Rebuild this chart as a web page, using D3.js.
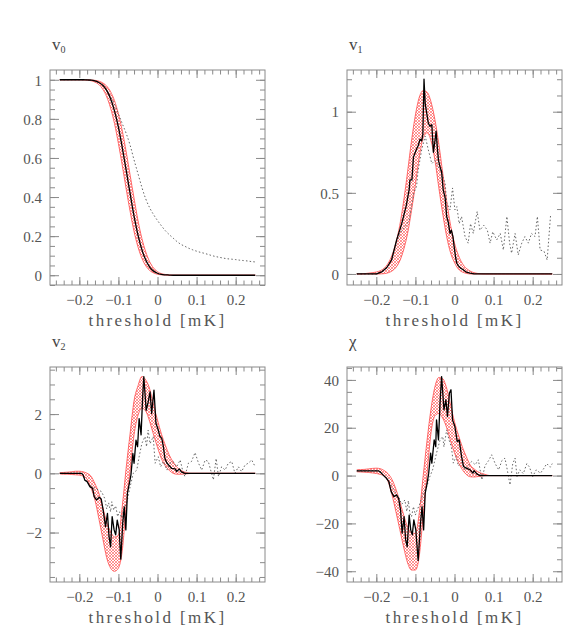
<!DOCTYPE html>
<html>
<head>
<meta charset="utf-8">
<script src="https://cdn.jsdelivr.net/npm/d3@7"></script>
<style>
  body { margin: 0; background: #fff; }
  text { font-family: "Liberation Serif", "DejaVu Serif", serif; }
</style>
</head>
<body>
<svg id="chart" width="587" height="644"></svg>
<script>
// thresholds [mK] for the smooth series and the gaussian bands
const grid = [-0.25,-0.24,-0.23,-0.22,-0.21,-0.20,-0.19,-0.18,-0.17,-0.16,-0.15,-0.14,-0.13,-0.12,-0.11,-0.10,
  -0.09,-0.08,-0.07,-0.06,-0.05,-0.04,-0.03,-0.02,-0.01,0,0.01,0.02,0.03,0.04,0.05,0.06,0.07,0.08,0.09,0.10,
  0.11,0.12,0.13,0.14,0.15,0.16,0.17,0.18,0.19,0.20,0.21,0.22,0.23,0.24,0.25];

const xTicks = [-0.2, -0.1, 0, 0.1, 0.2];

////////////////////// v0 //////////////////////
const v0Black = [1,1,1,1,1,1,1,0.999,0.998,0.994,0.986,0.972,0.946,0.903,0.841,0.758,0.652,0.536,0.417,0.302,
  0.206,0.131,0.078,0.042,0.021,0.010,0.004,0.002,0.001,0,0,0,0,0,0,0,0,0,0,0,0,0,0,0,0,0,0,0,0,0,0];
const v0Dotted = [1,1,1,1,1,1,1,0.999,0.998,0.994,0.986,0.972,0.948,0.915,0.875,0.825,0.775,0.725,0.665,0.59,
  0.52,0.45,0.39,0.345,0.31,0.28,0.253,0.228,0.208,0.19,0.172,0.158,0.148,0.138,0.13,0.123,0.117,0.112,0.106,
  0.1,0.095,0.091,0.087,0.084,0.082,0.08,0.077,0.075,0.073,0.07,0.068];
const v0Hi = [1,1,1,1,1,1,1,1,0.999,0.997,0.993,0.984,0.968,0.939,0.893,0.826,0.738,0.63,0.512,0.394,0.281,
  0.189,0.119,0.069,0.037,0.018,0.008,0.004,0.001,0,0,0,0,0,0,0,0,0,0,0,0,0,0,0,0,0,0,0,0,0,0];
const v0Lo = [1,1,1,1,1,1,0.999,0.998,0.995,0.988,0.976,0.952,0.913,0.855,0.776,0.674,0.56,0.44,0.326,0.224,
  0.145,0.087,0.048,0.024,0.012,0.005,0.002,0.001,0,0,0,0,0,0,0,0,0,0,0,0,0,0,0,0,0,0,0,0,0,0,0];
const v0Ticks = [0, 0.2, 0.4, 0.6, 0.8, 1];

////////////////////// v1 //////////////////////
const v1Hi = [0,0,0.002,0.005,0.008,0.012,0.02,0.035,0.065,0.115,0.19,0.3,0.45,0.63,0.82,0.98,1.09,1.13,1.12,
  1.06,0.95,0.8,0.62,0.45,0.3,0.19,0.115,0.065,0.035,0.018,0.008,0.003,0.001,0,0,0,0,0,0,0,0,0,0,0,0,0,0,0,0,0,0];
const v1Lo = [0,0,0,0,0,0,0,0.002,0.007,0.018,0.04,0.08,0.15,0.25,0.39,0.55,0.72,0.84,0.87,0.82,0.7,0.53,0.37,
  0.23,0.13,0.07,0.03,0.012,0.004,0,0,0,0,0,0,0,0,0,0,0,0,0,0,0,0,0,0,0,0,0,0];
const v1BlackT = [-0.25,-0.199,-0.185,-0.173,-0.161,-0.148,-0.135,-0.124,-0.122,-0.116,-0.114,-0.109,-0.105,
  -0.101,-0.097,-0.093,-0.088,-0.084,-0.081,-0.078,-0.075,-0.071,-0.067,-0.063,-0.058,-0.054,-0.05,-0.047,
  -0.044,-0.041,-0.037,-0.033,-0.029,-0.024,-0.02,-0.016,-0.0115,-0.008,-0.004,-0.001,0.003,0.006,0.01,0.016,
  0.023,0.03,0.04,0.05,0.25];
const v1BlackV = [0,0,0.015,0.04,0.086,0.21,0.31,0.415,0.44,0.52,0.58,0.58,0.72,0.745,0.77,0.79,0.83,0.82,0.86,
  1.2,1.05,0.99,0.93,0.91,0.92,0.75,0.82,0.88,0.78,0.7,0.66,0.63,0.52,0.47,0.354,0.32,0.25,0.27,0.23,0.17,0.1,
  0.066,0.05,0.035,0.025,0.012,0.005,0,0];
const v1DotT = [-0.25,-0.199,-0.185,-0.173,-0.161,-0.148,-0.135,-0.124,-0.116,-0.11,-0.104,-0.097,-0.093,-0.084,
  -0.075,-0.067,-0.058,-0.05,-0.041,-0.033,-0.024,-0.02,-0.0115,-0.005,0.001,0.006,0.012,0.018,0.027,0.035,
  0.041,0.048,0.058,0.065,0.075,0.084,0.091,0.098,0.108,0.117,0.125,0.134,0.141,0.146,0.155,0.163,0.172,0.18,
  0.189,0.197,0.206,0.212,0.219,0.229,0.237,0.246];
const v1DotV = [0,0,0.015,0.04,0.086,0.2,0.27,0.3,0.33,0.42,0.5,0.54,0.64,0.765,0.85,0.765,0.68,0.7,0.66,0.62,
  0.56,0.44,0.395,0.53,0.395,0.415,0.31,0.354,0.23,0.19,0.31,0.25,0.385,0.27,0.3,0.27,0.19,0.26,0.21,0.25,0.148,
  0.354,0.19,0.128,0.25,0.117,0.19,0.23,0.19,0.25,0.23,0.354,0.148,0.14,0.086,0.37];
const v1Ticks = [0, 0.5, 1];

////////////////////// v2 //////////////////////
const v2Hi = [0.02,0.03,0.04,0.05,0.07,0.07,0.05,0,-0.1,-0.35,-0.67,-1.15,-1.65,-1.97,-2.15,-2.08,-1.1,0.2,1.35,
  2.45,2.95,3.27,3.15,2.85,2.3,1.8,1.33,0.95,0.62,0.38,0.2,0.1,0.04,0.01,0,0,0,0,0,0,0,0,0,0,0,0,0,0,0,0,0];
const v2Lo = [-0.02,-0.03,-0.03,-0.04,-0.05,-0.06,-0.1,-0.2,-0.5,-0.9,-1.53,-2.2,-2.85,-3.2,-3.31,-3.2,-2.6,-1.1,
  0.1,1.3,1.95,2.2,2.1,1.75,1.3,0.88,0.5,0.25,0.1,0,-0.03,-0.03,-0.02,-0.01,0,0,0,0,0,0,0,0,0,0,0,0,0,0,0,0,0];
const v2BlackT = [-0.25,-0.194,-0.19,-0.186,-0.18,-0.173,-0.166,-0.162,-0.156,-0.149,-0.144,-0.139,-0.133,-0.128,
  -0.124,-0.12,-0.116,-0.111,-0.107,-0.103,-0.098,-0.094,-0.089,-0.085,-0.081,-0.077,-0.072,-0.068,-0.063,-0.06,
  -0.055,-0.051,-0.047,-0.042,-0.038,-0.035,-0.029,-0.024,-0.019,-0.015,-0.009,-0.004,0.002,0.006,0.011,0.015,
  0.019,0.024,0.03,0.036,0.045,0.049,0.056,0.061,0.07,0.25];
const v2BlackV = [0,0,-0.06,-0.23,-0.28,-0.45,-0.51,-0.79,-0.9,-0.81,-0.87,-1.24,-1.8,-1.35,-2.14,-2.48,-1.46,
  -1.91,-2.08,-1.58,-1.91,-2.9,-1.69,-1.13,-1.91,-0.67,-0.34,-0.06,0.67,0.34,1.12,0.9,1.85,1.3,2.58,3.26,2.13,2.4,
  2.75,2.02,2.81,1.69,1.46,1.25,1.18,0.9,0.5,0.35,0.26,0.17,0.15,0.06,0.15,0.05,0,0];
const v2DotT = [-0.25,-0.194,-0.186,-0.173,-0.16,-0.143,-0.135,-0.13,-0.125,-0.12,-0.117,-0.112,-0.107,-0.102,
  -0.097,-0.092,-0.087,-0.082,-0.077,-0.07,-0.062,-0.053,-0.047,-0.04,-0.032,-0.028,-0.024,-0.019,-0.011,-0.006,
  0.002,0.008,0.015,0.024,0.032,0.04,0.049,0.058,0.064,0.07,0.079,0.087,0.096,0.105,0.113,0.122,0.13,0.136,0.143,
  0.15,0.156,0.164,0.173,0.181,0.19,0.198,0.207,0.215,0.224,0.232,0.241,0.25];
const v2DotV = [0,0,-0.2,-0.4,-0.5,-0.62,-0.85,-1.2,-1.0,-1.3,-0.96,-1.24,-1.1,-1.46,-1.3,-1.5,-1.24,-1.1,-0.9,
  -0.45,0,0.11,0.56,1.01,1.24,0.9,1.46,1.0,1.24,0.34,0.56,0.22,0.4,0.11,0.34,0.4,0.22,0.45,0.11,-0.11,0.34,0.4,
  0.7,0.34,0.11,0.45,0.4,0.11,-0.22,0.5,-0.11,0.22,0.11,0.34,0.4,0,0.22,0.06,0.28,0.34,0.45,0.22];
const v2Ticks = [-2, 0, 2];

////////////////////// chi //////////////////////
const chiHi = [2.4,2.5,2.6,2.8,3.0,3.1,2.9,2.1,0.8,-1.6,-5.6,-10.8,-16.5,-21.5,-24,-24.2,-15.5,0,15,28,37.2,41,
  40.5,36.5,29.5,22.5,17,12,8,4.5,2.8,1.6,0.9,0.4,0,0,0,0,0,0,0,0,0,0,0,0,0,0,0,0,0];
const chiLo = [1.6,1.5,1.4,1.3,1.1,0.9,0.5,-0.2,-2.5,-8,-15,-22.5,-30,-36.5,-39.5,-39.5,-33.5,-16.5,1,18,25,26,24,
  20,14.5,9.5,5.5,2.5,0.5,-0.5,-0.6,-0.4,-0.2,0,0,0,0,0,0,0,0,0,0,0,0,0,0,0,0,0,0];
const chiBlackT = [-0.25,-0.195,-0.191,-0.183,-0.174,-0.168,-0.162,-0.155,-0.149,-0.143,-0.138,-0.134,-0.129,
  -0.125,-0.121,-0.116,-0.112,-0.108,-0.104,-0.099,-0.093,-0.087,-0.083,-0.079,-0.075,-0.07,-0.066,-0.061,-0.058,
  -0.052,-0.048,-0.046,-0.041,-0.037,-0.033,-0.027,-0.022,-0.018,-0.013,-0.009,-0.005,0.001,0.007,0.012,0.018,
  0.023,0.03,0.04,0.047,0.05,0.057,0.065,0.25];
const chiBlackV = [2,2,1.7,0.3,-1.1,-2.5,-6.7,-8.8,-8.1,-9.5,-14.4,-24.1,-17.2,-26.9,-29.7,-16.5,-22.7,-24.8,
  -18.5,-22.7,-35.5,-19.9,-13,-22.7,-7.4,-3.2,1,9.4,5.2,14.9,12.1,23.3,14.9,30.3,41.4,27.5,31.7,24.7,34.5,35.9,
  23.3,20.5,14.2,14.9,8,3.8,3.1,2.4,1,2.1,0.7,0,0];
const chiDotT = [-0.25,-0.195,-0.183,-0.168,-0.155,-0.143,-0.135,-0.127,-0.122,-0.118,-0.114,-0.11,-0.105,-0.1,
  -0.097,-0.088,-0.08,-0.071,-0.063,-0.056,-0.05,-0.046,-0.037,-0.03,-0.027,-0.02,-0.014,-0.008,-0.003,0.004,
  0.01,0.019,0.027,0.035,0.044,0.053,0.061,0.07,0.078,0.087,0.095,0.104,0.113,0.121,0.129,0.135,0.142,0.149,
  0.155,0.16,0.167,0.176,0.185,0.192,0.2,0.209,0.22,0.229,0.236,0.245,0.25];
const chiDotV = [2,2,0.3,-2.5,-6,-9,-12,-10.2,-15,-10.5,-16,-17.2,-13,-16.5,-15,-11.5,-7.4,-4.6,-0.4,2.4,6.6,9.4,
  14.9,16.3,12,19.1,14.9,12,5.2,8,4,5.5,2.4,4,5.9,4.5,6.6,-1.8,4.1,6.2,8.7,5,2.4,6.2,7.3,2.4,-3.9,5,7.3,-0.4,
  2.4,0.8,5,3.5,-0.4,2.4,1,3.1,5,3.5,5];
const chiTicks = [-40, -20, 0, 20, 40];

///////////////////// LAYOUT /////////////////////
const W = 215, H = 215;
const frameColor = '#8a8a8a';
const labelColor = '#555';

const panels = [
  { left: 50, top: 70, yDomain: [-0.05, 1.05], yTicks: v0Ticks, yMinor: 0.05, sym: 'v', sub: '0',
    lo: v0Lo, hi: v0Hi, black: grid.map((t, i) => [t, v0Black[i]]), blackCurve: d3.curveMonotoneX,
    dotted: grid.map((t, i) => [t, v0Dotted[i]]), dotCurve: d3.curveMonotoneX },
  { left: 347, top: 70, yDomain: [-0.068, 1.257], yTicks: v1Ticks, yMinor: 0.1, sym: 'v', sub: '1',
    lo: v1Lo, hi: v1Hi, black: v1BlackT.map((t, i) => [t, v1BlackV[i]]), blackCurve: d3.curveLinear,
    dotted: v1DotT.map((t, i) => [t, v1DotV[i]]), dotCurve: d3.curveLinear },
  { left: 50, top: 367, yDomain: [-3.67, 3.59], yTicks: v2Ticks, yMinor: 0.5, sym: 'v', sub: '2',
    lo: v2Lo, hi: v2Hi, black: v2BlackT.map((t, i) => [t, v2BlackV[i]]), blackCurve: d3.curveLinear,
    dotted: v2DotT.map((t, i) => [t, v2DotV[i]]), dotCurve: d3.curveLinear },
  { left: 347, top: 367, yDomain: [-44.5, 45.4], yTicks: chiTicks, yMinor: 5, sym: '\u03c7', sub: '',
    lo: chiLo, hi: chiHi, black: chiBlackT.map((t, i) => [t, chiBlackV[i]]), blackCurve: d3.curveLinear,
    dotted: chiDotT.map((t, i) => [t, chiDotV[i]]), dotCurve: d3.curveLinear }
];

const svg = d3.select('#chart');

// red cross-hatch for the gaussian bands
const pat = svg.append('defs').append('pattern')
  .attr('id', 'hatch')
  .attr('patternUnits', 'userSpaceOnUse')
  .attr('width', 3).attr('height', 3);
pat.append('path')
  .attr('d', 'M0,0L3,3M3,0L0,3')
  .attr('stroke', '#ff3030')
  .attr('stroke-width', 0.5);

const fmt = d3.format('~g');
const xMinor = d3.range(-0.26, 0.2601, 0.02);

panels.forEach((p, k) => {
  const g = svg.append('g').attr('transform', `translate(${p.left},${p.top})`);

  const x = d3.scaleLinear().domain([-0.275, 0.275]).range([0, W]);
  const y = d3.scaleLinear().domain(p.yDomain).range([H, 0]);

  const clipId = 'clip' + k;
  g.append('clipPath').attr('id', clipId)
    .append('rect').attr('width', W).attr('height', H);

  const plot = g.append('g').attr('clip-path', `url(#${clipId})`);

  // band
  const area = d3.area()
    .x((d, i) => x(grid[i]))
    .y0((d, i) => y(p.lo[i]))
    .y1((d, i) => y(p.hi[i]))
    .curve(d3.curveMonotoneX);
  plot.append('path')
    .datum(grid)
    .attr('d', area)
    .attr('fill', 'url(#hatch)');

  const edge = d3.line()
    .x(d => x(d[0]))
    .y(d => y(d[1]))
    .curve(d3.curveMonotoneX);
  [p.lo, p.hi].forEach(arr => {
    plot.append('path')
      .datum(grid.map((t, i) => [t, arr[i]]))
      .attr('d', edge)
      .attr('fill', 'none')
      .attr('stroke', '#ff4a4a')
      .attr('stroke-width', 0.8);
  });

  // dotted series
  plot.append('path')
    .datum(p.dotted)
    .attr('d', d3.line().x(d => x(d[0])).y(d => y(d[1])).curve(p.dotCurve))
    .attr('fill', 'none')
    .attr('stroke', '#555')
    .attr('stroke-width', 0.9)
    .attr('stroke-dasharray', '1.5,2.2');

  // solid series
  plot.append('path')
    .datum(p.black)
    .attr('d', d3.line().x(d => x(d[0])).y(d => y(d[1])).curve(p.blackCurve))
    .attr('fill', 'none')
    .attr('stroke', '#000')
    .attr('stroke-width', 1.3)
    .attr('stroke-linejoin', 'round');

  ///////////////////// AXES /////////////////////
  const yMinor = d3.range(Math.ceil(p.yDomain[0] / p.yMinor) * p.yMinor, p.yDomain[1], p.yMinor);

  const styleAxis = sel => {
    sel.select('.domain').remove();
    sel.selectAll('line').attr('stroke', frameColor);
    sel.selectAll('text')
      .attr('fill', labelColor)
      .attr('font-size', 15)
      .attr('font-family', '"Liberation Serif", "DejaVu Serif", serif');
  };

  // minor ticks, all four sides
  g.append('g').attr('transform', `translate(0,${H})`)
    .call(d3.axisBottom(x).tickValues(xMinor).tickSize(-4.5).tickFormat('')).call(styleAxis);
  g.append('g')
    .call(d3.axisTop(x).tickValues(xMinor).tickSize(-4.5).tickFormat('')).call(styleAxis);
  g.append('g')
    .call(d3.axisLeft(y).tickValues(yMinor).tickSize(-5).tickFormat('')).call(styleAxis);
  g.append('g').attr('transform', `translate(${W},0)`)
    .call(d3.axisRight(y).tickValues(yMinor).tickSize(-5).tickFormat('')).call(styleAxis);

  // major ticks
  const xb = g.append('g').attr('transform', `translate(0,${H})`)
    .call(d3.axisBottom(x).tickValues(xTicks).tickSize(-8).tickFormat(fmt)).call(styleAxis);
  xb.selectAll('text').attr('y', 20).attr('dy', null);
  g.append('g')
    .call(d3.axisTop(x).tickValues(xTicks).tickSize(-8).tickFormat('')).call(styleAxis);
  const yl = g.append('g')
    .call(d3.axisLeft(y).tickValues(p.yTicks).tickSize(-9).tickFormat(fmt)).call(styleAxis);
  yl.selectAll('text').attr('x', -8).attr('dy', '0.35em');
  g.append('g').attr('transform', `translate(${W},0)`)
    .call(d3.axisRight(y).tickValues(p.yTicks).tickSize(-9).tickFormat('')).call(styleAxis);

  // frame
  g.append('rect')
    .attr('width', W).attr('height', H)
    .attr('fill', 'none')
    .attr('stroke', frameColor)
    .attr('stroke-width', 1);

  // axis title
  g.append('text')
    .attr('x', W / 2)
    .attr('y', H + 41)
    .attr('text-anchor', 'middle')
    .attr('font-size', 17)
    .attr('letter-spacing', 2.4)
    .attr('fill', labelColor)
    .text('threshold [mK]');

  // panel symbol
  const t = g.append('text')
    .attr('x', 2)
    .attr('y', -20)
    .attr('font-size', 17)
    .attr('fill', '#444')
    .text(p.sym);
  if (p.sub) {
    t.append('tspan').attr('dy', 3).attr('font-size', 10).text(p.sub);
  }
});
</script>
</body>
</html>
